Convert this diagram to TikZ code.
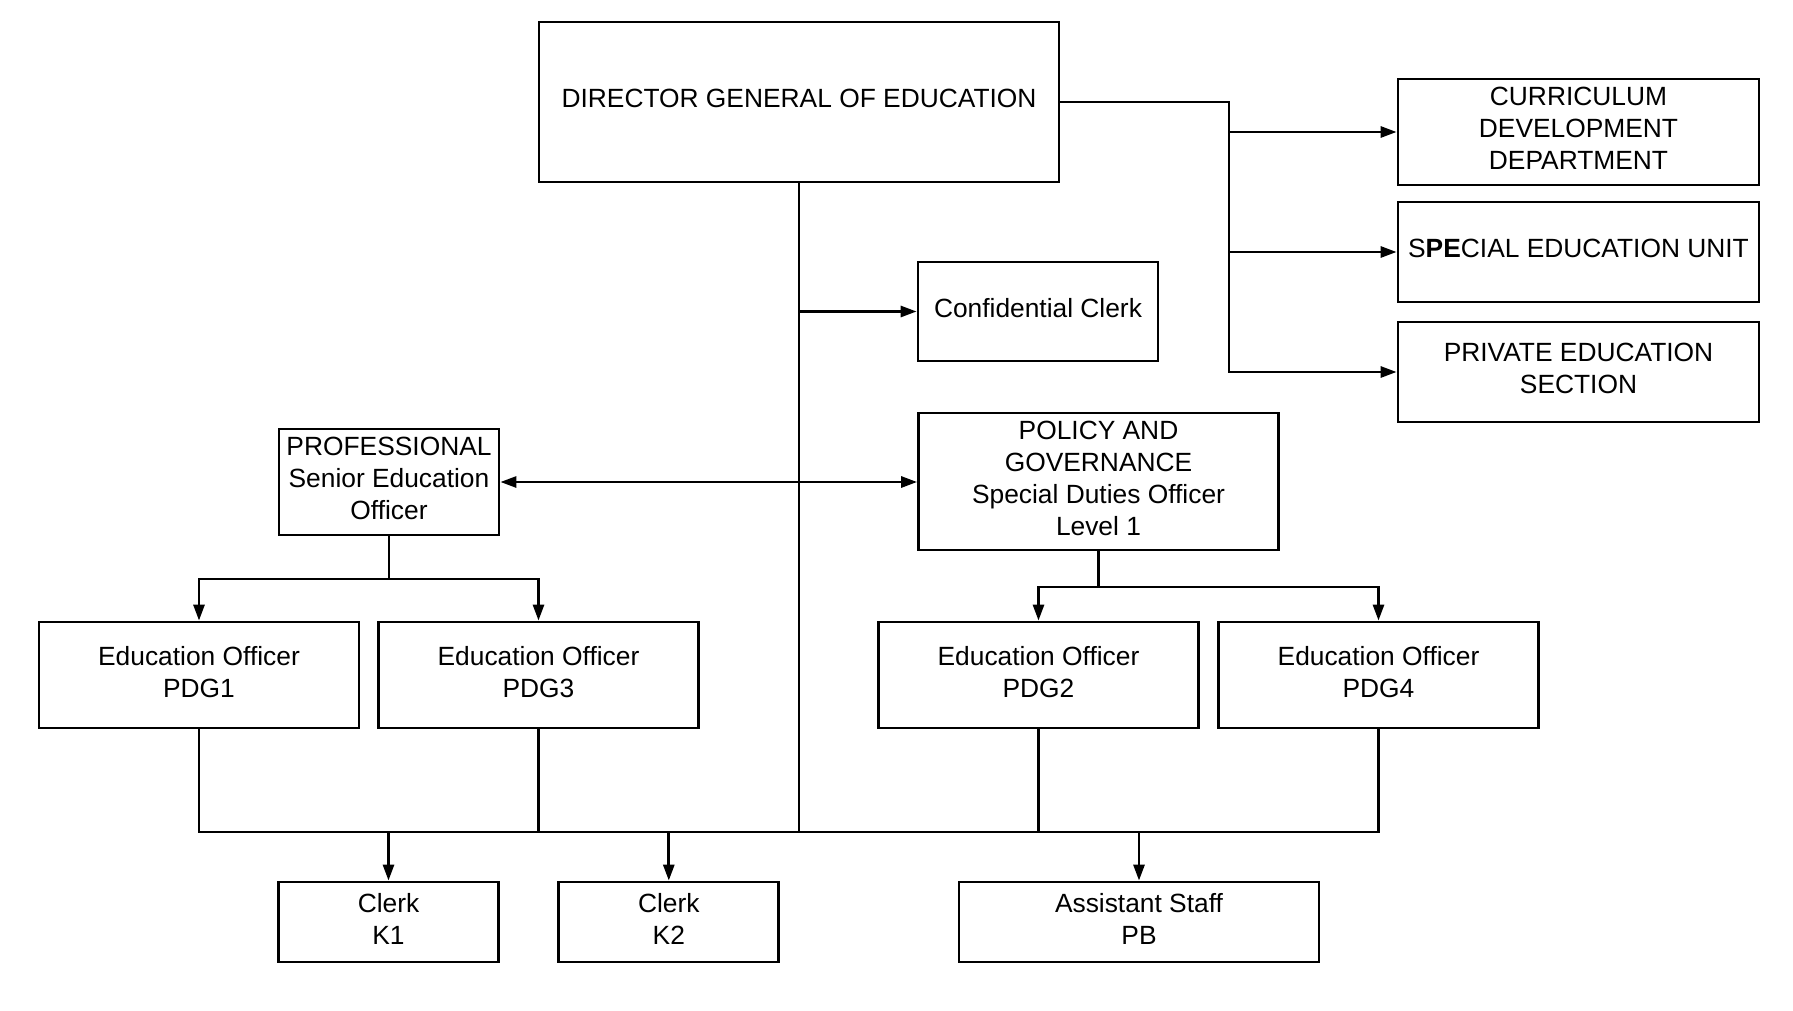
\documentclass[tikz,border=0pt]{standalone}
\usepackage{fontspec}
\setmainfont{Liberation Sans}
\usetikzlibrary{arrows.meta,positioning}

\begin{document}
\begin{tikzpicture}[x=0.02cm,y=-0.02cm,line width=1.6pt,>={Triangle[length=0.32cm,width=0.22cm]},
  box/.style={draw,rectangle,align=center,inner sep=0pt,text depth=0.14cm,font=\fontsize{15}{18.2}\selectfont}]

\useasboundingbox (0,0) rectangle (1793,1011);

\node[box,minimum width=10.4cm,minimum height=3.2cm](dg) at (799,102){DIRECTOR GENERAL OF EDUCATION};
\node[box,minimum width=7.22cm,minimum height=2.12cm](cur) at (1578.5,132){CURRICULUM\\DEVELOPMENT\\DEPARTMENT};
\node[box,minimum width=7.22cm,minimum height=2cm](spe) at (1578.5,252){S\textbf{PE}CIAL EDUCATION UNIT};
\node[box,minimum width=7.22cm,minimum height=2cm](pri) at (1578.5,372){PRIVATE EDUCATION\\SECTION};
\node[box,minimum width=4.8cm,minimum height=1.98cm](con) at (1038,311.5){Confidential Clerk};
\node[box,minimum width=4.4cm,minimum height=2.12cm](pro) at (389,482){PROFESSIONAL\\Senior Education\\Officer};
\node[box,minimum width=7.2cm,minimum height=2.74cm](pol) at (1098.5,481.5){POLICY AND\\GOVERNANCE\\Special Duties Officer\\Level 1};
\node[box,minimum width=6.4cm,minimum height=2.12cm](e1) at (199,675){Education Officer\\PDG1};
\node[box,minimum width=6.4cm,minimum height=2.12cm](e3) at (538.5,675){Education Officer\\PDG3};
\node[box,minimum width=6.4cm,minimum height=2.12cm](e2) at (1038.5,675){Education Officer\\PDG2};
\node[box,minimum width=6.4cm,minimum height=2.12cm](e4) at (1378.5,675){Education Officer\\PDG4};
\node[box,minimum width=4.4cm,minimum height=1.6cm](k1) at (388.5,922){Clerk\\K1};
\node[box,minimum width=4.4cm,minimum height=1.6cm](k2) at (668.8,922){Clerk\\K2};
\node[box,minimum width=7.2cm,minimum height=1.6cm](pb) at (1139,922){Assistant Staff\\PB};

\coordinate (j) at (1229,102);
\coordinate (bus) at (799,832);
\coordinate (pf) at (389,579);
\coordinate (gf) at (1098.5,587);

\draw[->] (dg.east) -- (j) |- (pri.west);
\draw[->] (j |- cur) -- (cur.west);
\draw[->] (j |- spe) -- (spe.west);
\draw (dg.south) -- (bus);
\draw[->] (dg.south |- con) -- (con.west);
\draw[<->] (pro.east) -- (pro.east -| pol.west);
\draw[->] (pro.south) -- (pf) -| (e1.north);
\draw[->] (pf) -| (e3.north);
\draw[->] (pol.south) -- (gf) -| (e2.north);
\draw[->] (gf) -| (e4.north);
\draw (e1.south) -- (e1 |- bus) -- (e4 |- bus) -- (e4.south);
\draw (e3.south) -- (e3 |- bus);
\draw (e2.south) -- (e2 |- bus);
\draw[->] (k1 |- bus) -- (k1.north);
\draw[->] (k2 |- bus) -- (k2.north);
\draw[->] (pb |- bus) -- (pb.north);

\end{tikzpicture}
\end{document}
